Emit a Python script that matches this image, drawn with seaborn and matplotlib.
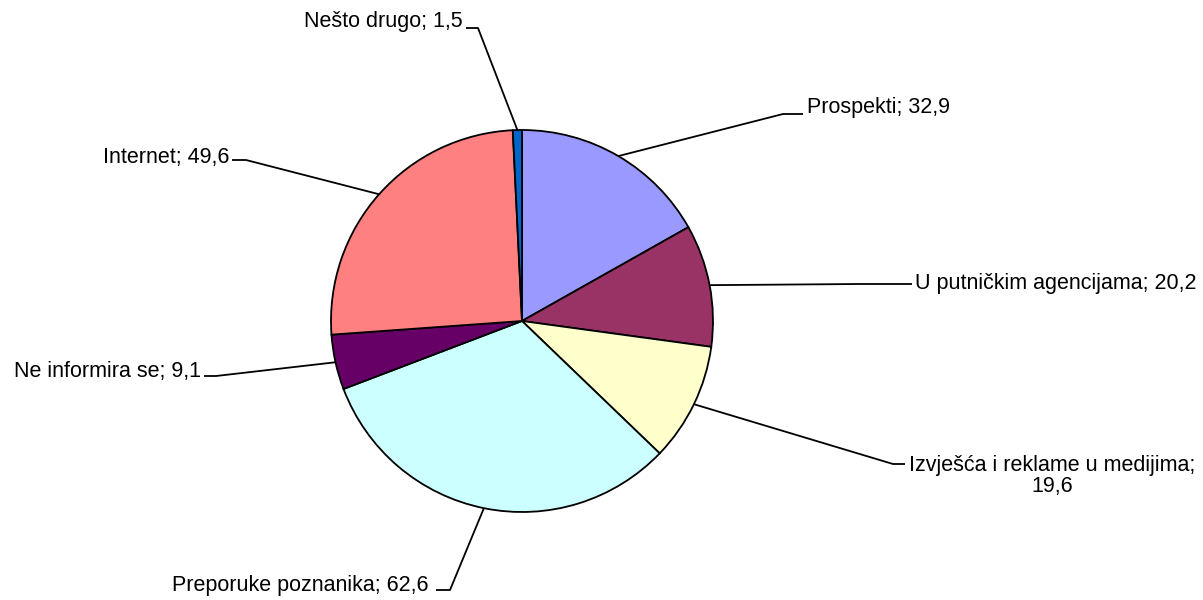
import numpy as np
import matplotlib
matplotlib.use("Agg")
import matplotlib.pyplot as plt
import seaborn as sns

# Data
categories = ["Prospekti", "U putničkim agencijama", "Izvješća i reklame u medijima",
              "Preporuke poznanika", "Ne informira se", "Internet", "Nešto drugo"]
values = [32.9, 20.2, 19.6, 62.6, 9.1, 49.6, 1.5]
colors = ["#9999FF", "#993366", "#FFFFCC", "#CCFFFF", "#660066", "#FF8080", "#0066CC"]

sns.set_theme(style="white")
plt.rcParams['font.family'] = ['Liberation Sans', 'DejaVu Sans']

W, H = 1203, 600
fig = plt.figure(figsize=(W / 100, H / 100), dpi=100)
ax = fig.add_axes([0, 0, 1, 1])
ax.set_xlim(0, W)
ax.set_ylim(0, H)
ax.set_aspect('equal')
ax.axis('off')

cx, cy, r = 522, H - 321, 191
wedges, _ = ax.pie(values, colors=colors, startangle=90, counterclock=False,
                   center=(cx, cy), radius=r,
                   wedgeprops=dict(edgecolor='black', linewidth=1.3))
ax.set_xlim(0, W)
ax.set_ylim(0, H)

# label layout: elbow point (pixels), horizontal tail dx, text anchor, alignment
layout = [
    ((783, 114), 20, (807, 108), 'left'),
    ((860, 284), 52, (915, 284), 'left'),
    ((893, 464), 12, (1052, 476), 'center'),
    ((450, 590), -14, (429, 585), 'right'),
    ((216, 376), -12, (201, 372), 'right'),
    ((246, 160), -14, (229, 157), 'right'),
    ((478, 28), -12, (463, 22), 'right'),
]

for w, cat, val, (elbow, dx, tpos, ha) in zip(wedges, categories, values, layout):
    ang = np.deg2rad((w.theta1 + w.theta2) / 2)
    ax_, ay_ = cx + r * np.cos(ang), cy + r * np.sin(ang)
    ex, ey = elbow[0], H - elbow[1]
    ax.plot([ax_, ex, ex + dx], [ay_, ey, ey], color='black', lw=1.3,
            solid_capstyle='butt')
    num = str(val).replace('.', ',')
    txt = f"{cat};\n{num}" if ha == 'center' else f"{cat}; {num}"
    ax.text(tpos[0], H - tpos[1], txt, ha=ha, va='center', fontsize=15.5,
            color='black', linespacing=1.05)

fig.savefig("out.png", dpi=100)
